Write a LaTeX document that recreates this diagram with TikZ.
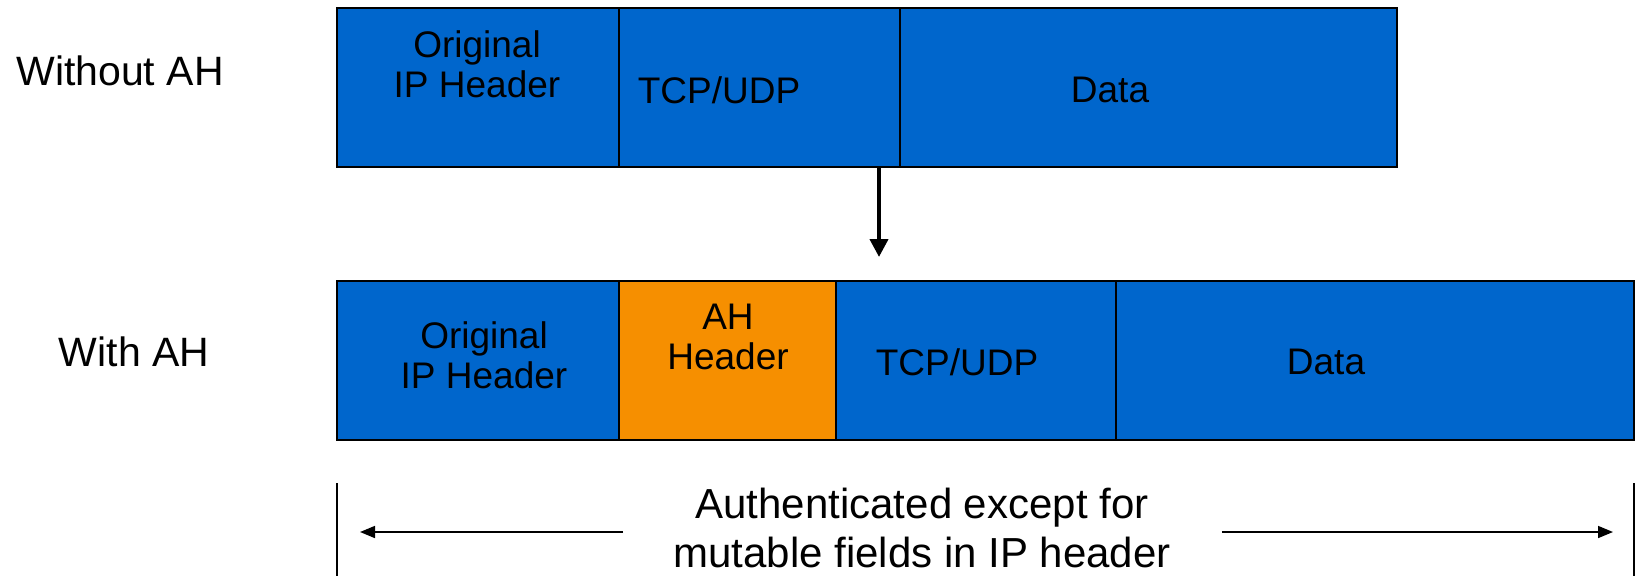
\documentclass[tikz,border=0pt]{standalone}
\usepackage{fontspec}
\setmainfont{Liberation Sans}
\usepackage{tikz}
\usetikzlibrary{arrows.meta,calc}

\definecolor{ahblue}{RGB}{0,102,204}
\definecolor{ahorange}{RGB}{246,143,0}

\begin{document}
\begin{tikzpicture}[x=1pt, y=-1pt,
    field/.style={draw=black, line width=1.3pt, fill=ahblue, anchor=north west,
        minimum height=159pt, inner sep=0pt, outer sep=0pt},
    fieldtxt/.style={font=\fontsize{37}{40}\selectfont, align=center, inner sep=0pt},
    rowlbl/.style={font=\fontsize{41}{46}\selectfont, inner sep=0pt},
    downarrow/.style={-{Triangle[length=18pt, width=18pt]}, line width=4pt},
    span/.style={-{Triangle[length=15pt, width=12pt]}, line width=1.6pt},
]
\useasboundingbox (0,0) rectangle (1637,576);

% Without AH
\node[rowlbl] (withoutlbl) at (120,71) {Without AH};
\node[field, minimum width=282pt] (ipA) at (337,8) {};
\node[field, minimum width=281pt] (tcpA) at (619,8) {};
\node[field, minimum width=497pt] (dataA) at (900,8) {};
\node[fieldtxt] (ipAtxt) at (477,64) {Original\\IP Header};
\node[fieldtxt] (tcpAtxt) at (719,90) {TCP/UDP};
\node[fieldtxt] (dataAtxt) at (1110,90) {Data};

% transformation
\coordinate (tip) at (879,257);
\draw[downarrow] (tcpA.south -| tip) -- (tip);

% With AH
\node[rowlbl] (withlbl) at (134,352) {With AH};
\node[field, minimum width=282pt] (ipB) at (337,281) {};
\node[field, fill=ahorange, minimum width=217pt] (ahB) at (619,281) {};
\node[field, minimum width=280pt] (tcpB) at (836,281) {};
\node[field, minimum width=518pt] (dataB) at (1116,281) {};
\node[fieldtxt] (ipBtxt) at (484,355) {Original\\IP Header};
\node[fieldtxt] (ahBtxt) at (728,337) {AH\\Header};
\node[fieldtxt] (tcpBtxt) at (957,362) {TCP/UDP};
\node[fieldtxt] (dataBtxt) at (1326,362) {Data};

% authenticated span
\node[font=\fontsize{42}{49}\selectfont, align=center, inner sep=0pt] (auth) at (922,528)
    {Authenticated except for\\mutable fields in IP header};
\coordinate (lend) at (360,532);
\coordinate (rend) at (1613,532);
\draw[line width=1.5pt] (ipB.south west |- 0,483) -- (ipB.south west |- 0,576);
\draw[line width=1.5pt] (dataB.south east |- 0,483) -- (dataB.south east |- 0,576);
\draw[span] ($(auth.west |- lend)+(-50,0)$) -- (lend);
\draw[span] ($(auth.east |- rend)+(51,0)$) -- (rend);
\end{tikzpicture}
\end{document}
